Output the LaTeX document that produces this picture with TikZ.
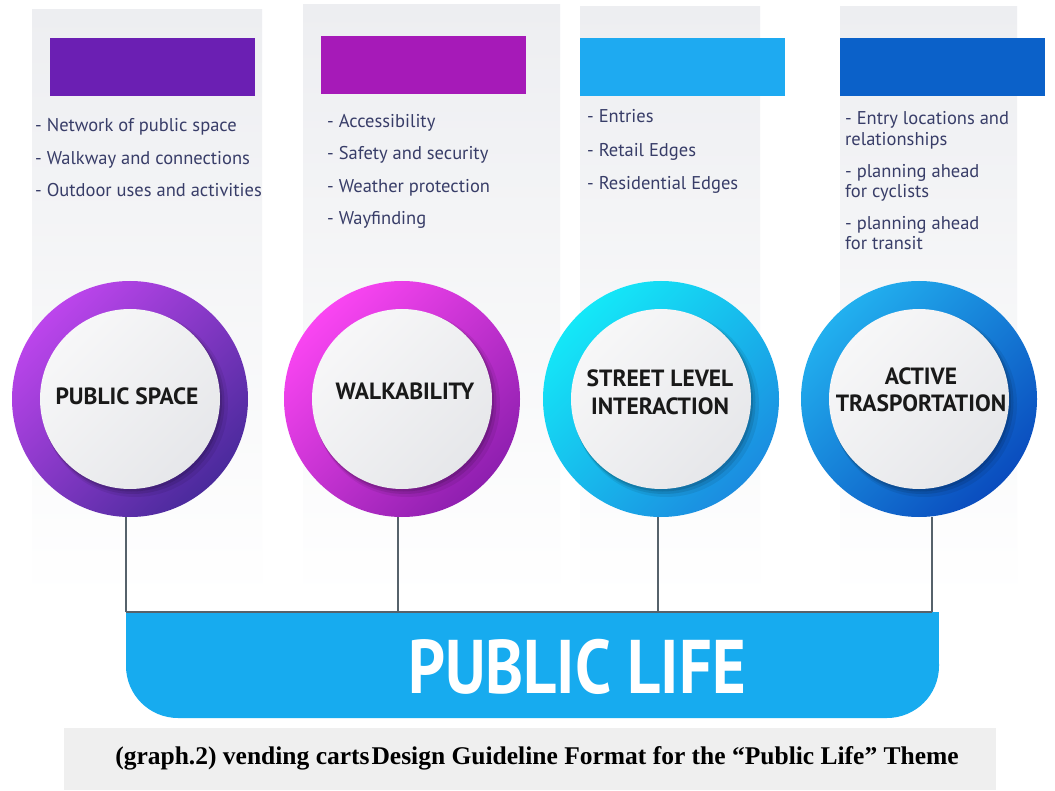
\documentclass[tikz,border=0pt]{standalone}
\usepackage{fontspec}
\setmainfont{PT Sans}
\newfontfamily\capfont{Liberation Serif}
\definecolor{panel}{HTML}{EDEEF1}
\definecolor{barA}{HTML}{6B1FB3}
\definecolor{barB}{HTML}{A61AB8}
\definecolor{barC}{HTML}{1EAAF1}
\definecolor{barD}{HTML}{0B61C9}
\definecolor{rAl}{HTML}{BC45EC}
\definecolor{rAd}{HTML}{4A2A9C}
\definecolor{rBl}{HTML}{FA45F2}
\definecolor{rBd}{HTML}{8E1FAF}
\definecolor{rCl}{HTML}{14E8F8}
\definecolor{rCd}{HTML}{1B8CE0}
\definecolor{rDl}{HTML}{22B0EF}
\definecolor{rDd}{HTML}{0A4CBE}
\definecolor{innerlt}{HTML}{F7F7F8}
\definecolor{innerdk}{HTML}{E6E7EA}
\definecolor{itemtext}{HTML}{383D68}
\definecolor{lifeblue}{HTML}{17ABEF}
\definecolor{connc}{HTML}{56626B}
\definecolor{capgray}{HTML}{EFEFEF}
\begin{document}
\begin{tikzpicture}[x=1pt,y=-1pt,
  item/.style={anchor=base west, inner sep=0pt, text=itemtext, font=\fontsize{18.5}{22}\selectfont},
  ring/.style={circle, minimum size=236pt, inner sep=0pt},
  core/.style={circle, minimum size=180pt, inner sep=0pt, top color=innerlt, bottom color=innerdk, shading angle=45},
  lbl/.style={anchor=base, inner sep=0pt, font=\bfseries\fontsize{23.5}{28}\selectfont, text=black!90},
  connector/.style={draw=connc, line width=1.6pt},
  colbar/.style={inner sep=0pt, anchor=north west, minimum width=205pt, minimum height=58pt},
  panelbox/.style={top color=panel, bottom color=white},
]
\useasboundingbox (0,0) rectangle (1055,791);
\fill[white] (0,0) rectangle (1055,791);

% background panels
\shade[panelbox] (32,10) rectangle (262,600);
\shade[panelbox] (303,5) rectangle (560,600);
\shade[panelbox] (580,7) rectangle (760,600);
\shade[panelbox] (840,7) rectangle (1017,600);

% coloured bars
\node[colbar, fill=barA] (bar1) at (50,38) {};
\node[colbar, fill=barB] (bar2) at (321,36) {};
\node[colbar, fill=barC] (bar3) at (580,38) {};
\node[colbar, fill=barD] (bar4) at (840,38) {};

% bullet texts
\node[item] (a1) at (35,132) {- Network of public space};
\node[item] (a2) at (35,165) {- Walkway and connections};
\node[item] (a3) at (35,197) {- Outdoor uses and activities};

\node[item] (b1) at (327,128) {- Accessibility};
\node[item] (b2) at (327,160) {- Safety and security};
\node[item] (b3) at (327,193) {- Weather protection};
\node[item] (b4) at (327,225) {- Wayfinding};

\node[item] (s1) at (587,123) {- Entries};
\node[item] (s2) at (587,157) {- Retail Edges};
\node[item] (s3) at (587,190) {- Residential Edges};

\node[item] (d1) at (845,125) {- Entry locations and};
\node[item] (d1b) at (845,146) {relationships};
\node[item] (d2) at (845,178) {- planning ahead};
\node[item] (d2b) at (845,198) {for cyclists};
\node[item] (d3) at (845,230) {- planning ahead};
\node[item] (d3b) at (845,250) {for transit};

% bottom bar
\fill[lifeblue, rounded corners=52pt] (126,612) rectangle (939,718);
\fill[lifeblue] (126,612) rectangle (939,670);
\node[anchor=base, inner sep=0pt, text=white, font=\bfseries\fontsize{76}{80}\selectfont] (life) at (577,693) {\scalebox{0.85}[1]{PUBLIC LIFE}};

% circles
\foreach \n/\x/\lc/\dc in {1/130/rAl/rAd, 2/402/rBl/rBd, 3/661/rCl/rCd, 4/919/rDl/rDd}{
  \node[ring, top color=\lc, bottom color=\dc, shading angle=45] (c\n) at (\x,399) {};
  \fill[black, opacity=0.07] (\x+5,404) circle[radius=93pt];
  \fill[black, opacity=0.10] (\x+3,402.5) circle[radius=91.5pt];
  \fill[black, opacity=0.12] (\x+1.5,401) circle[radius=90.5pt];
  \node[core] (i\n) at (\x,399) {};
}

% circle labels
\node[lbl] (t1) at (127,405) {PUBLIC SPACE};
\node[lbl] (t2) at (405,400) {WALKABILITY};
\node[lbl] (t3a) at (660,387) {STREET LEVEL};
\node[lbl] (t3b) at (660,415) {INTERACTION};
\node[lbl] (t4a) at (921,385) {ACTIVE};
\node[lbl] (t4b) at (921,412) {TRASPORTATION};

% connectors
\coordinate (j1) at (126,612);
\coordinate (j2) at (398,612);
\coordinate (j3) at (658,612);
\coordinate (j4) at (932,612);
\draw[connector] (j1) -- (j1 |- c1.south);
\draw[connector] (j2) -- (j2 |- c2.south);
\draw[connector] (j3) -- (j3 |- c3.south);
\draw[connector] (j4) -- (j4 |- c4.south);
\draw[connector] (j1) -- (j4);

% caption
\node[fill=capgray, minimum width=932pt, minimum height=62pt, inner sep=0pt] (capbox) at (530,759) {};
\node[anchor=base, inner sep=0pt, font=\capfont\bfseries\fontsize{25.5}{30}\selectfont] (cap) at (537,764) {(graph.2) vending carts\hspace{2pt}Design Guideline Format for the “Public Life” Theme};
\end{tikzpicture}
\end{document}
